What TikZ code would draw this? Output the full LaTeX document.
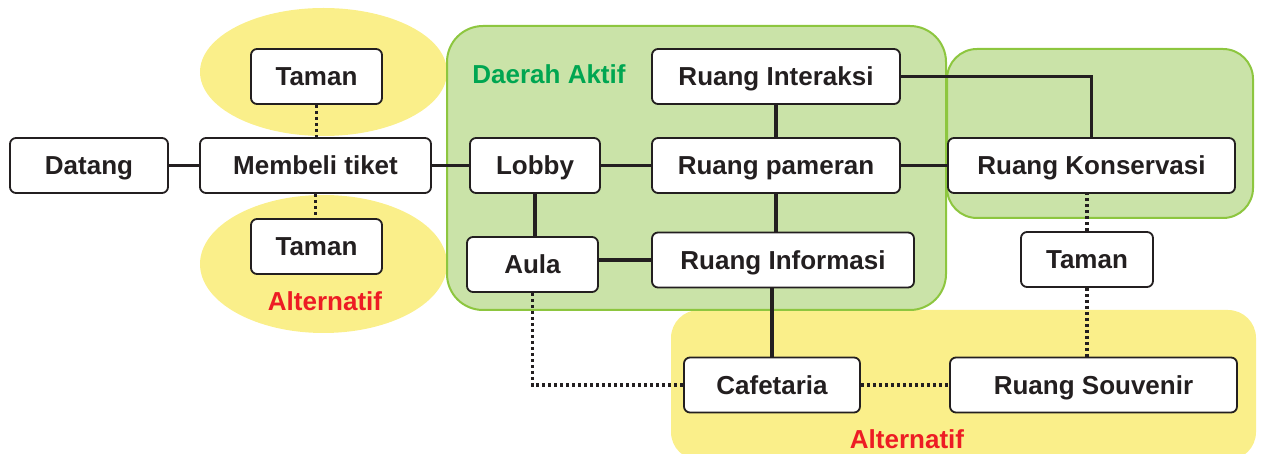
\documentclass[tikz,border=0pt]{standalone}
\usepackage{fontspec}
\setmainfont{Liberation Sans}
\definecolor{yel}{HTML}{FAEF8A}
\definecolor{grnfill}{HTML}{CAE3A8}
\definecolor{grnline}{HTML}{8DC63F}
\definecolor{grntext}{HTML}{00A651}
\definecolor{redtext}{HTML}{ED1C24}
\definecolor{ink}{HTML}{231F20}
\tikzset{
  room/.style={draw=ink, line width=1.8pt, fill=white, rounded corners=6pt,
    minimum height=55pt, inner sep=0pt, text=ink, text height=19pt, text depth=0pt,
    font=\fontsize{26}{30}\selectfont\bfseries},
  link/.style={draw=ink, line width=3.2pt},
  altlink/.style={draw=ink, line width=3.2pt, dash pattern=on 3pt off 3pt},
  zone/.style={fill=grnfill, draw=grnline, line width=2pt},
  label/.style={font=\fontsize{26}{30}\selectfont\bfseries, inner sep=0pt, text height=19pt, text depth=0pt}
}
\begin{document}
\begin{tikzpicture}[x=1pt,y=-1pt]
\useasboundingbox (0,0) rectangle (1261,454);
\clip (0,0) rectangle (1261,454);
% backgrounds
\fill[yel] (323.5,72) ellipse [x radius=123.5, y radius=64];
\fill[yel] (323.5,264) ellipse [x radius=123.5, y radius=69];
\fill[yel, rounded corners=28pt] (671,310) rectangle (1256,460);
\path[zone, rounded corners=36pt] (447,26) rectangle (946,310);
\path[zone, rounded corners=30pt] (947,49) rectangle (1253,218);
% texts on zones
\node[label, text=grntext] (aktif) at (549,74) {Daerah Aktif};
\node[label, text=redtext] (alt1) at (325,301) {Alternatif};
\node[label, text=redtext] (alt2) at (907,439) {Alternatif};
% rooms
\node[room, minimum width=158pt] (datang) at (89,165.5) {Datang};
\node[room, minimum width=231pt] (beli) at (315.5,165.5) {Membeli tiket};
\node[room, minimum width=131pt] (tamanA) at (316.5,76.5) {Taman};
\node[room, minimum width=131pt] (tamanB) at (316.5,246.5) {Taman};
\node[room, minimum width=130pt] (lobby) at (535,165.5) {Lobby};
\node[room, minimum width=248pt] (pameran) at (776,165.5) {Ruang pameran};
\node[room, minimum width=248pt] (interaksi) at (776,76.5) {Ruang Interaksi};
\node[room, minimum width=287pt] (konservasi) at (1091.5,165.5) {Ruang Konservasi};
\node[room, minimum width=131pt] (aula) at (532.5,264.5) {Aula};
\node[room, minimum width=262pt] (informasi) at (783,260) {Ruang Informasi};
\node[room, minimum width=132pt] (tamanC) at (1087,259.5) {Taman};
\node[room, minimum width=176pt] (cafe) at (772,385) {Cafetaria};
\node[room, minimum width=287pt] (souvenir) at (1093.5,385) {Ruang Souvenir};
% solid connectors
\draw[link] (datang) -- (beli);
\draw[link] (beli) -- (lobby);
\draw[link] (lobby) -- (pameran);
\draw[link] (pameran) -- (konservasi);
\draw[link] (interaksi) -- (pameran);
\draw[link] (pameran.south) -- (pameran.south |- informasi.north);
\draw[link] (lobby.south) -- (lobby.south |- aula.north);
\draw[link] (informasi.west) -- (informasi.west -| aula.east);
\draw[link] (cafe.north) -- (cafe.north |- informasi.south);
\draw[link] (interaksi.east) -| (konservasi.north);
% dotted connectors
\draw[altlink] (tamanA.south) -- (tamanA.south |- beli.north);
\draw[altlink] (beli.south) -- (beli.south |- tamanB.north);
\draw[altlink] (tamanC.north) -- (tamanC.north |- konservasi.south);
\draw[altlink] (tamanC.south) -- (tamanC.south |- souvenir.north);
\draw[altlink] (aula.south) |- (cafe.west);
\draw[altlink] (cafe) -- (souvenir);
\end{tikzpicture}
\end{document}
